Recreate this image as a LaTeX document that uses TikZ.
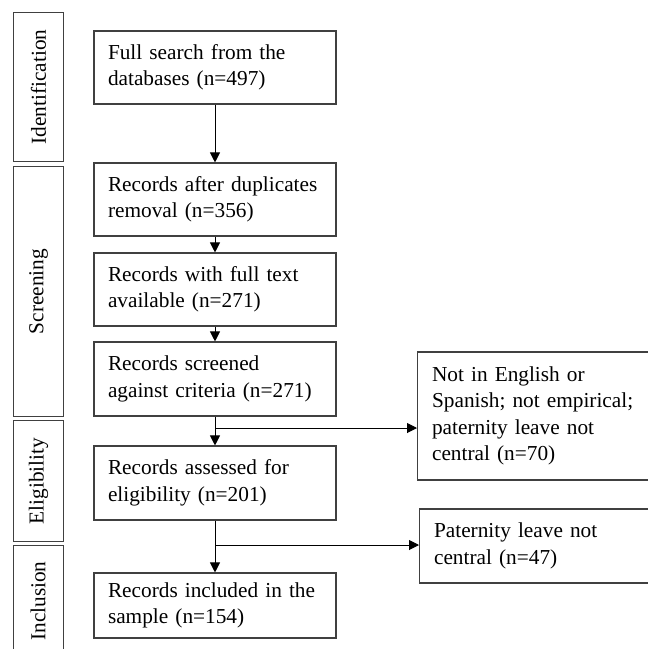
\documentclass[tikz,border=0pt]{standalone}
\usepackage{fontspec}
\setmainfont{Liberation Serif}
\usetikzlibrary{arrows.meta,calc}
\begin{document}
\begin{tikzpicture}[x=1pt,y=-1pt,
  every node/.style={font=\fontsize{21.3}{26.5}\selectfont},
  stepbox/.style={draw=black!75,line width=1.1pt,text width=214pt,align=left,
     inner xsep=14pt,inner ysep=0pt,minimum height=#1,anchor=center},
  sidebox/.style={draw=black!75,line width=1.1pt,text width=221pt,align=left,
     inner xsep=14.5pt,inner ysep=0pt,minimum height=#1,anchor=west},
  phase/.style={draw=black!75,line width=1.1pt,minimum width=50pt,minimum height=#1,
     inner sep=0pt,anchor=north west},
  phasetext/.style={rotate=90,anchor=center,inner sep=0pt},
  conn/.style={draw=black,line width=1pt,-{Triangle[length=10pt,width=10pt]}}]
\useasboundingbox (0,0) rectangle (648,649);
\clip (0,0) rectangle (648,649);

% phase boxes
\node[phase=149pt] (pid) at (13,12) {};
\node[phasetext] (tid) at (pid.center) {Identification};
\node[phase=250pt] (pscr) at (13,166) {};
\node[phasetext] (tscr) at (pscr.center) {Screening};
\node[phase=121pt] (pel) at (13,420) {};
\node[phasetext] (tel) at (pel.center) {Eligibility};
\node[phase=112pt] (pinc) at (13,545) {};
\node[phasetext] (tinc) at (38,601) {Inclusion};

% main boxes
\node[stepbox=73pt] (b1) at (215,67.5) {\mbox{Full search from the}\\\mbox{databases (n=497)}};
\node[stepbox=73pt] (b2) at (215,199.5) {\mbox{Records after duplicates}\\\mbox{removal (n=356)}};
\node[stepbox=73pt] (b3) at (215,289.5) {\mbox{Records with full text}\\\mbox{available (n=271)}};
\node[stepbox=74pt] (b4) at (215,379) {\mbox{Records screened}\\\mbox{against criteria (n=271)}};
\node[stepbox=74pt] (b5) at (215,483) {\mbox{Records assessed for}\\\mbox{eligibility (n=201)}};
\node[stepbox=65pt] (b6) at (215,605.5) {\mbox{Records included in the}\\\mbox{sample (n=154)}};

% side boxes
\node[sidebox=128pt] (sa) at (417,416) {\mbox{Not in English or}\\\mbox{Spanish; not empirical;}\\\mbox{paternity leave not}\\\mbox{central (n=70)}};
\node[sidebox=74pt] (sb) at (419,546) {\mbox{Paternity leave not}\\\mbox{central (n=47)}};

% connectors
\draw[conn] (b1.south) -- (b2.north);
\draw[conn] (b2.south) -- (b3.north);
\draw[conn] (b3.south) -- (b4.north);
\draw[conn] (b4.south) -- (b5.north);
\draw[conn] (b5.south) -- (b6.north);
\coordinate (j1) at (215,428);
\coordinate (j2) at (215,545);
\draw[conn] (j1) -- (j1 -| sa.west);
\draw[conn] (j2) -- (j2 -| sb.west);
\end{tikzpicture}
\end{document}
